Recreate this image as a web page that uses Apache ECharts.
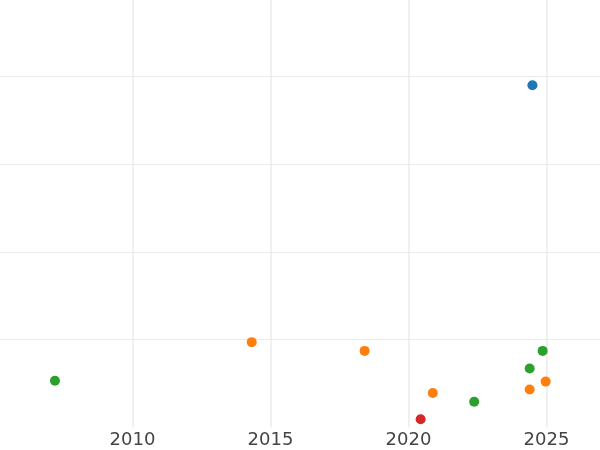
<!DOCTYPE html>
<html>
<head>
<meta charset="utf-8">
<script src="https://cdn.jsdelivr.net/npm/echarts@6/dist/echarts.min.js"></script>
<style>html,body{margin:0;padding:0;background:#fff}#c{width:600px;height:450px}</style>
</head>
<body>
<div id="c"></div>
<script>
// Data (x = year, y = value in arbitrary units)
const xTicks = [2010, 2015, 2020, 2025];
const blueX = [2024.49];
const blueY = [390];
const orangeX = [2014.32, 2018.41, 2020.88, 2024.39, 2024.97];
const orangeY = [97, 87, 39, 43, 52];
const greenX = [2007.19, 2022.38, 2024.39, 2024.86];
const greenY = [53, 29, 67, 87];
const redX = [2020.44];
const redY = [9];

const zip = (xs, ys) => xs.map((x, i) => [x, ys[i]]);
const chart = echarts.init(document.getElementById('c'), null, {renderer: 'canvas'});
const mk = (name, xs, ys, color) => ({
  name, type: 'scatter', data: zip(xs, ys), symbolSize: 10,
  itemStyle: {color: color, opacity: 1}
});
chart.setOption({
  animation: false,
  backgroundColor: '#ffffff',
  grid: {left: -5.5, width: 607.2, top: -11.3, height: 438.5, containLabel: false, outerBoundsMode: 'none'},
  xAxis: {
    type: 'value', min: 2005, max: 2027, interval: 5,
    axisLine: {show: false}, axisTick: {show: false},
    splitLine: {show: true, showMinLine: false, showMaxLine: false, lineStyle: {color: '#ebebeb', width: 1.5}},
    axisLabel: {
      showMinLabel: false, showMaxLabel: false, color: '#444444', fontSize: 18, fontFamily: 'DejaVu Sans', margin: 4,
      formatter: v => xTicks.includes(v) ? String(v) : ''
    }
  },
  yAxis: {
    type: 'value', min: 0, max: 500, interval: 100,
    axisLine: {show: false}, axisTick: {show: false}, axisLabel: {show: false},
    splitLine: {show: true, showMinLine: false, showMaxLine: false, lineStyle: {color: '#ebebeb', width: 1.2}}
  },
  series: [
    mk('blue', blueX, blueY, '#1f77b4'),
    mk('orange', orangeX, orangeY, '#ff7f0e'),
    mk('green', greenX, greenY, '#2ca02c'),
    mk('red', redX, redY, '#d62728')
  ]
});
</script>
</body>
</html>
